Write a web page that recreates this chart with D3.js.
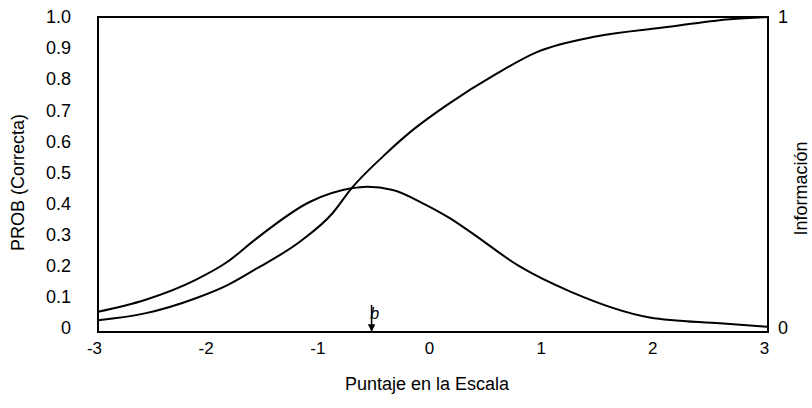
<!DOCTYPE html>
<html>
<head>
<meta charset="utf-8">
<script src="https://cdn.jsdelivr.net/npm/d3@7"></script>
<style>
  body { margin: 0; background: #fff; }
  text { font-family: "Liberation Sans", Arial, sans-serif; fill: #000; }
</style>
</head>
<body>
<svg id="chart"></svg>
<script>
// curve values
const iccTheta = [-3, -2.58, -2.13, -1.84, -1.59, -1.19, -0.9, -0.73, -0.45, -0.18, 0.12, 0.57, 0.93, 1.47, 2.06, 2.66, 3];
const probCorrect = [0.025, 0.047, 0.095, 0.138, 0.189, 0.278, 0.369, 0.449, 0.551, 0.637, 0.716, 0.818, 0.887, 0.938, 0.966, 0.993, 1.0];
const infoTheta = [-3, -2.58, -2.13, -1.84, -1.59, -1.1, -0.73, -0.59, -0.36, -0.06, 0.15, 0.33, 0.78, 1.23, 1.94, 2.57, 3];
const information = [0.052, 0.09, 0.154, 0.213, 0.285, 0.406, 0.449, 0.454, 0.444, 0.395, 0.353, 0.31, 0.197, 0.117, 0.034, 0.015, 0.004];
const xTicks = [-3, -2, -1, 0, 1, 2, 3];
const yTicks = [0, 0.1, 0.2, 0.3, 0.4, 0.5, 0.6, 0.7, 0.8, 0.9, 1.0];
const yTickLabels = ["0", "0.1", "0.2", "0.3", "0.4", "0.5", "0.6", "0.7", "0.8", "0.9", "1.0"];
const infoTicks = [0, 1];
const bValue = -0.55;

const width = 812, height = 408;
const margin = { top: 17, right: 44, bottom: 76, left: 98 };
const innerW = width - margin.left - margin.right;
const innerH = height - margin.top - margin.bottom;

const svg = d3.select("#chart")
    .attr("width", width)
    .attr("height", height);

const g = svg.append("g")
    .attr("transform", `translate(${margin.left},${margin.top})`);

const x = d3.scaleLinear().domain([-3, 3]).range([0, innerW]);
const y = d3.scaleLinear().domain([0, 1]).range([innerH - 4, 0]);
const yInfo = d3.scaleLinear().domain([0, 1]).range([innerH - 4, 0]);

// frame
g.append("rect")
    .attr("width", innerW)
    .attr("height", innerH)
    .attr("fill", "none")
    .attr("stroke", "#000")
    .attr("stroke-width", 2);

const leftAxis = d3.axisLeft(y)
    .tickValues(yTicks)
    .tickFormat((d, i) => yTickLabels[i])
    .tickSize(0)
    .tickPadding(27);
g.append("g").call(leftAxis)
    .call(a => a.select(".domain").remove())
    .selectAll("text")
    .style("font-size", "18px");

const rightAxis = d3.axisRight(yInfo)
    .tickValues(infoTicks)
    .tickFormat(d => String(d))
    .tickSize(0)
    .tickPadding(10);
g.append("g")
    .attr("transform", `translate(${innerW},0)`)
    .call(rightAxis)
    .call(a => a.select(".domain").remove())
    .selectAll("text")
    .style("font-size", "18px");

const bottomAxis = d3.axisBottom(x)
    .tickValues(xTicks)
    .tickFormat(d => String(d))
    .tickSize(0)
    .tickPadding(10);
g.append("g")
    .attr("transform", `translate(0,${innerH})`)
    .call(bottomAxis)
    .call(a => a.select(".domain").remove())
    .selectAll("text")
    .attr("dx", -4)
    .style("font-size", "17px");

const line = d3.line().curve(d3.curveMonotoneX);

g.append("path")
    .attr("d", line(iccTheta.map((t, i) => [x(t), y(probCorrect[i])])))
    .attr("fill", "none")
    .attr("stroke", "#000")
    .attr("stroke-width", 2);

g.append("path")
    .attr("d", line(infoTheta.map((t, i) => [x(t), yInfo(information[i])])))
    .attr("fill", "none")
    .attr("stroke", "#000")
    .attr("stroke-width", 2);

// b marker with arrow
svg.append("defs").append("marker")
    .attr("id", "arrow")
    .attr("viewBox", "0 0 10 10")
    .attr("refX", 9).attr("refY", 5)
    .attr("markerWidth", 5).attr("markerHeight", 5)
    .attr("orient", "auto")
    .append("path")
    .attr("d", "M0,0L10,5L0,10Z")
    .attr("fill", "#000");

g.append("line")
    .attr("x1", x(bValue)).attr("x2", x(bValue))
    .attr("y1", innerH - 27).attr("y2", innerH - 1)
    .attr("stroke", "#000")
    .attr("stroke-width", 1.5)
    .attr("marker-end", "url(#arrow)");

g.append("text")
    .attr("x", x(bValue) + 3)
    .attr("y", innerH - 13)
    .attr("text-anchor", "middle")
    .style("font-size", "16px")
    .style("font-style", "italic")
    .text("b");

// axis titles
svg.append("text")
    .attr("transform", `translate(24,${margin.top + innerH / 2 + 8}) rotate(-90)`)
    .attr("text-anchor", "middle")
    .style("font-size", "18px")
    .text("PROB (Correcta)");

svg.append("text")
    .attr("transform", `translate(807,${margin.top + innerH / 2 + 14}) rotate(-90)`)
    .attr("text-anchor", "middle")
    .style("font-size", "18px")
    .text("Información");

svg.append("text")
    .attr("x", margin.left + innerW / 2 - 6)
    .attr("y", 390)
    .attr("text-anchor", "middle")
    .style("font-size", "18px")
    .text("Puntaje en la Escala");
</script>
</body>
</html>
